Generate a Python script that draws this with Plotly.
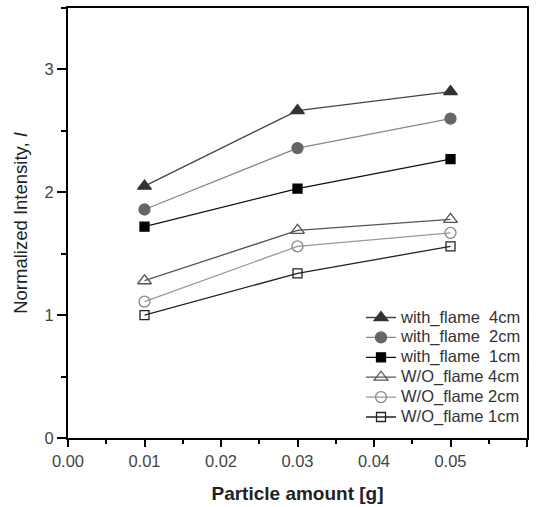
import plotly.graph_objects as go

x_vals = [0.01, 0.03, 0.05]
names = ["with_flame  4cm", "with_flame  2cm", "with_flame  1cm",
         "W/O_flame 4cm", "W/O_flame 2cm", "W/O_flame 1cm"]
with_4 = [2.05, 2.665, 2.82]
with_2 = [1.86, 2.36, 2.60]
with_1 = [1.72, 2.03, 2.27]
wo_4 = [1.28, 1.69, 1.78]
wo_2 = [1.11, 1.56, 1.67]
wo_1 = [1.00, 1.34, 1.56]
series = [with_4, with_2, with_1, wo_4, wo_2, wo_1]

symbols = ["triangle-up", "circle", "square", "triangle-up-open", "circle-open", "square-open"]
mcolors = ["#333333", "#666666", "#000000", "#555555", "#888888", "#222222"]
lcolors = ["#444444", "#888888", "#111111", "#555555", "#999999", "#222222"]
msizes = [12, 11, 9, 12, 11, 9]

fig = go.Figure()
for n, y, s, mc, lc, ms in zip(names, series, symbols, mcolors, lcolors, msizes):
    fig.add_trace(go.Scatter(
        x=x_vals, y=y, name='<span style="font-size:16.5px">' + n + '</span>',
        mode="lines+markers",
        line=dict(color=lc, width=1.3),
        marker=dict(symbol=s, size=ms, color=mc, line=dict(color=mc, width=1.3)),
    ))

def axis_common(minor_dtick, major_len, minor_len):
    return dict(
        showline=True, linecolor="black", linewidth=2, mirror=True,
        showgrid=False, zeroline=False,
        ticks="outside", ticklen=major_len, tickwidth=2, tickcolor="black",
        tickfont=dict(family="Liberation Sans, Arial", size=16.5, color="#444444"),
        minor=dict(ticks="outside", ticklen=minor_len, tickwidth=2, tickcolor="black", dtick=minor_dtick),
    )

fig.update_layout(
    width=542, height=507,
    margin=dict(l=68, r=15, t=6, b=68),
    paper_bgcolor="white", plot_bgcolor="white",
    font=dict(family="Liberation Sans, Arial", color="#222222"),
    xaxis=dict(range=[0, 0.06], dtick=0.01, tickformat=".2f",
               title=dict(text="<b>Particle amount [g]</b>", font=dict(size=19, color="#222222"), standoff=18),
               **axis_common(0.005, 7, 4)),
    yaxis=dict(range=[0, 3.5], dtick=1,
               title=dict(text="Normalized Intensity, <i>I</i>", font=dict(size=18.5, color="#222222"), standoff=12),
               **axis_common(0.5, 9, 5)),
    legend=dict(x=1.0, y=0.315, xanchor="right", yanchor="top",
                bgcolor="rgba(0,0,0,0)", borderwidth=0,
                font=dict(size=13, color="#333333"), tracegroupgap=0,
                itemwidth=30),
    showlegend=True,
)

fig.write_html("out.html")
